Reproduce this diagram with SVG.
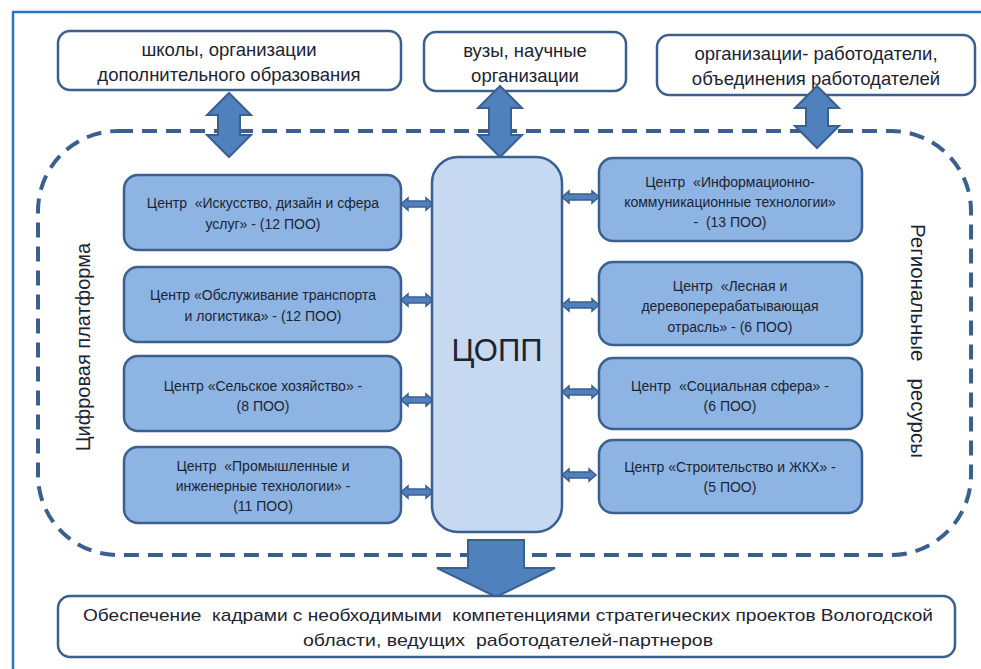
<svg xmlns="http://www.w3.org/2000/svg" width="981" height="669" viewBox="0 0 981 669">
<style>
.t{font-family:"Liberation Sans","Noto Sans",Arial,sans-serif;fill:#1c2430;text-anchor:middle}
.ob{fill:#ffffff;stroke:#3b5f8f;stroke-width:2.5}
.cb{fill:#8eb4e3;stroke:#3b5f8f;stroke-width:2.5}
.ar{fill:#4f81bd;stroke:#3b5f8f;stroke-width:2;stroke-linejoin:miter}
.sa{fill:#4f81bd;stroke:#3b5f8f;stroke-width:1.5}
.big{font-size:18.5px}
.sm{font-size:14px}
</style>
<rect width="981" height="669" fill="#ffffff"/>
<g id="frame">
<line x1="12" y1="12" x2="981" y2="12" stroke="#2e75b6" stroke-width="2.5"/>
<line x1="13" y1="12" x2="13" y2="669" stroke="#2e75b6" stroke-width="2.5"/>
</g>
<g id="platform">
<rect x="38" y="131" width="933" height="424" rx="80" ry="80" fill="none" stroke="#3b5f8f" stroke-width="4" stroke-dasharray="15 9"/>
<text class="t" font-size="20" transform="translate(90,347) rotate(-90)">Цифровая платформа</text>
<text class="t" font-size="20.5" transform="translate(911,341) rotate(90)" xml:space="preserve">Региональные   ресурсы</text>
</g>
<g id="schools">
<rect class="ob" x="58" y="31" width="343" height="59" rx="12"/>
<text class="t big" x="229" y="56">школы, организации</text>
<text class="t big" x="229" y="81">дополнительного образования</text>
</g>
<g id="universities">
<rect class="ob" x="424" y="32" width="202" height="59" rx="12"/>
<text class="t big" x="525" y="57">вузы, научные</text>
<text class="t big" x="525" y="82">организации</text>
</g>
<g id="employers">
<rect class="ob" x="657" y="35" width="318" height="60" rx="12"/>
<text class="t big" x="816" y="60">организации- работодатели,</text>
<text class="t big" x="816" y="85">объединения работодателей</text>
</g>
<g id="connectors">
<path class="ar" d="M229,93 L251,115 L240,115 L240,135 L251,135 L229,157 L207,135 L218,135 L218,115 L207,115 Z"/>
<path class="ar" d="M500,86 L522,108 L511,108 L511,135 L522,135 L500,157 L478,135 L489,135 L489,108 L478,108 Z"/>
<path class="ar" d="M817,86 L839,108 L828,108 L828,126 L839,126 L817,148 L795,126 L806,126 L806,108 L795,108 Z"/>
<path class="sa" d="M401,204 L408,198 L408,201 L426,201 L426,198 L433,204 L426,210 L426,207 L408,207 L408,210 Z"/>
<path class="sa" d="M401,300 L408,294 L408,297 L426,297 L426,294 L433,300 L426,306 L426,303 L408,303 L408,306 Z"/>
<path class="sa" d="M401,400 L408,394 L408,397 L426,397 L426,394 L433,400 L426,406 L426,403 L408,403 L408,406 Z"/>
<path class="sa" d="M401,492 L408,486 L408,489 L426,489 L426,486 L433,492 L426,498 L426,495 L408,495 L408,498 Z"/>
<path class="sa" d="M562,197 L569,191 L569,194 L592,194 L592,191 L599,197 L592,203 L592,200 L569,200 L569,203 Z"/>
<path class="sa" d="M562,305 L569,299 L569,302 L592,302 L592,299 L599,305 L592,311 L592,308 L569,308 L569,311 Z"/>
<path class="sa" d="M562,392 L569,386 L569,389 L592,389 L592,386 L599,392 L592,398 L592,395 L569,395 L569,398 Z"/>
<path class="sa" d="M562,475 L569,469 L569,472 L589,472 L589,469 L596,475 L589,481 L589,478 L569,478 L569,481 Z"/>
<path class="ar" d="M468,540 L524,540 L524,568 L555,568 L496,597 L437,568 L468,568 Z"/>
</g>
<g id="copp">
<rect x="432" y="157" width="130" height="375" rx="26" fill="#c6d9f1" stroke="#3b5f8f" stroke-width="2.5"/>
<text class="t" font-size="31" x="497" y="361">ЦОПП</text>
</g>
<g id="c-art">
<rect class="cb" x="124" y="175" width="277" height="75" rx="14"/>
<text class="t sm" x="263" y="208" xml:space="preserve">Центр  «Искусство, дизайн и сфера</text>
<text class="t sm" x="263" y="229">услуг» - (12 ПОО)</text>
</g>
<g id="c-transport">
<rect class="cb" x="124" y="267" width="277" height="75" rx="14"/>
<text class="t sm" x="263" y="300">Центр «Обслуживание транспорта</text>
<text class="t sm" x="263" y="321">и логистика» - (12 ПОО)</text>
</g>
<g id="c-agri">
<rect class="cb" x="124" y="356" width="277" height="75" rx="14"/>
<text class="t sm" x="263" y="391">Центр «Сельское хозяйство» -</text>
<text class="t sm" x="263" y="411">(8 ПОО)</text>
</g>
<g id="c-industry">
<rect class="cb" x="124" y="447" width="277" height="76" rx="14"/>
<text class="t sm" x="263" y="471" xml:space="preserve">Центр  «Промышленные и</text>
<text class="t sm" x="263" y="491">инженерные технологии» -</text>
<text class="t sm" x="263" y="511">(11 ПОО)</text>
</g>
<g id="c-ict">
<rect class="cb" x="599" y="158" width="263" height="83" rx="14"/>
<text class="t sm" x="730" y="187" xml:space="preserve">Центр  «Информационно-</text>
<text class="t sm" x="730" y="207">коммуникационные технологии»</text>
<text class="t sm" x="730" y="227" xml:space="preserve">-  (13 ПОО)</text>
</g>
<g id="c-forest">
<rect class="cb" x="599" y="262" width="263" height="83" rx="14"/>
<text class="t sm" x="730" y="291" xml:space="preserve">Центр  «Лесная и</text>
<text class="t sm" x="730" y="311">деревоперерабатывающая</text>
<text class="t sm" x="730" y="332">отрасль» - (6 ПОО)</text>
</g>
<g id="c-social">
<rect class="cb" x="599" y="358" width="263" height="71" rx="14"/>
<text class="t sm" x="730" y="391" xml:space="preserve">Центр  «Социальная сфера» -</text>
<text class="t sm" x="730" y="411">(6 ПОО)</text>
</g>
<g id="c-build">
<rect class="cb" x="599" y="440" width="263" height="73" rx="14"/>
<text class="t sm" x="730" y="472">Центр «Строительство и ЖКХ» -</text>
<text class="t sm" x="730" y="492">(5 ПОО)</text>
</g>
<g id="result">
<rect class="ob" x="58" y="596" width="897" height="61" rx="12"/>
<text class="t" font-size="17" x="508" y="621" textLength="850" lengthAdjust="spacingAndGlyphs" xml:space="preserve">Обеспечение  кадрами с необходимыми  компетенциями стратегических проектов Вологодской</text>
<text class="t" font-size="17" x="508" y="646" textLength="410" lengthAdjust="spacingAndGlyphs" xml:space="preserve">области, ведущих  работодателей-партнеров</text>
</g>
</svg>
